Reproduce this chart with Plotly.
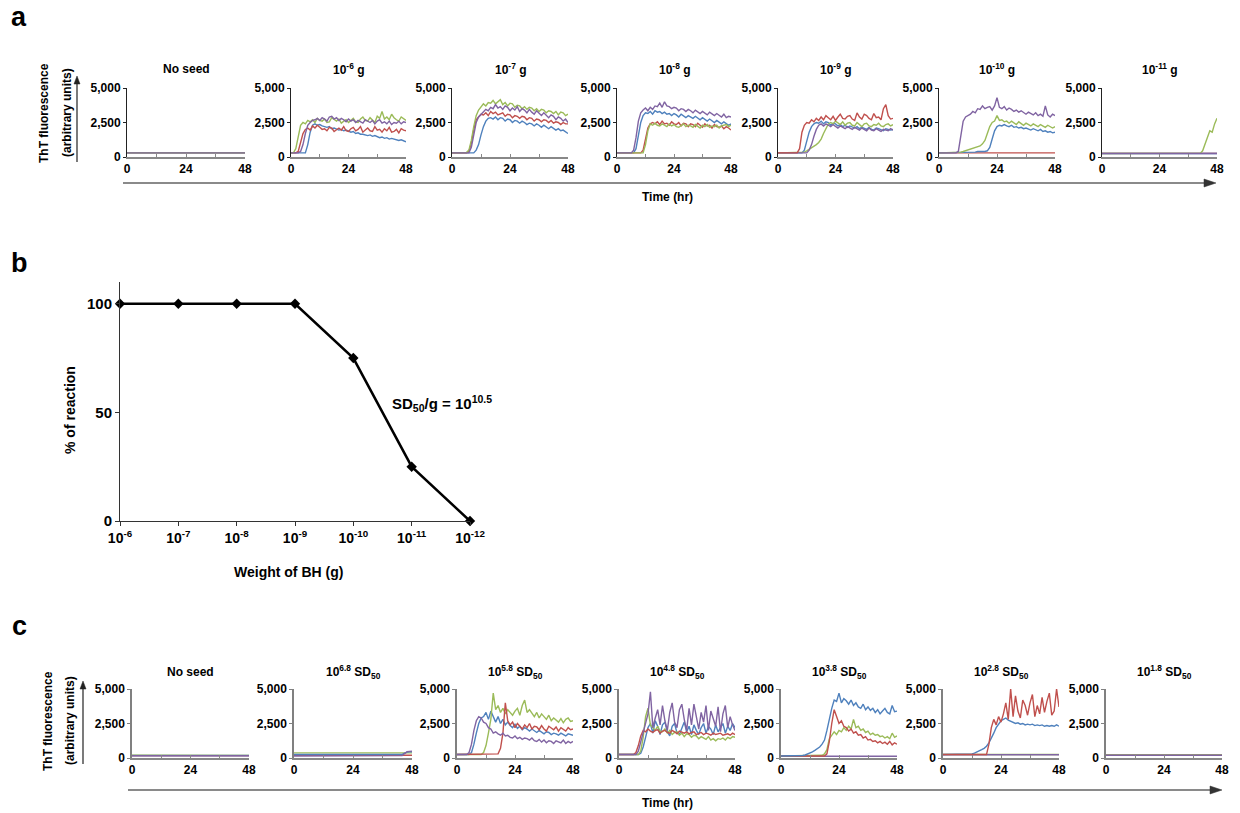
import plotly.graph_objects as go

W, H = 1240, 813

# ---------------- time grids (hours) ----------------
HOURS = [0, 1, 2, 3, 4, 5, 6, 7, 8, 9, 10, 11, 12, 13, 14, 15, 16, 17, 18, 19,
         20, 21, 22, 23, 24, 25, 26, 27, 28, 29, 30, 31, 32, 33, 34, 35, 36, 37, 38, 39,
         40, 41, 42, 43, 44, 45, 46, 47, 48]
FLAT_HOURS = [0, 12, 24, 36, 48]

# ---------------- panel a : ThT traces, brain-homogenate weight ----------------
A_TITLES = ["No seed", "10<sup>-6</sup> g", "10<sup>-7</sup> g", "10<sup>-8</sup> g",
            "10<sup>-9</sup> g", "10<sup>-10</sup> g", "10<sup>-11</sup> g"]

A0_BLUE = [300, 300, 300, 300, 300]
A0_RED = [320, 310, 320, 310, 320]
A0_GREEN = [310, 300, 310, 300, 310]
A0_PURPLE = [300, 300, 300, 300, 300]

A6_GREEN = [300, 300, 600, 1500, 2300, 2500, 2400, 2650, 2550, 2700,
            2500, 2800, 2650, 2600, 2750, 2500, 2550, 2850, 2700, 2600,
            2750, 2450, 2600, 2700, 2500, 2650, 2800, 2550, 2500, 2750,
            2900, 2650, 2600, 2850, 2700, 2500, 2950, 2800, 3300, 2750,
            2900, 2700, 3100, 2850, 2700, 2600, 2900, 2750, 2650]
A6_RED = [300, 300, 300, 400, 1000, 1700, 2000, 2100, 1950, 2250,
          2100, 2300, 2150, 2000, 2050, 1900, 2150, 2100, 1850, 2000,
          2100, 1950, 2200, 1900, 1850, 2050, 2150, 1900, 2000, 2200,
          1800, 1950, 2100, 1900, 1850, 2200, 1950, 2000, 1800, 2050,
          1900, 2150, 1800, 1850, 2000, 1750, 2050, 1950, 1900]
A6_PURPLE = [300, 300, 300, 300, 400, 900, 1700, 2300, 2500, 2650,
             2700, 2800, 2650, 2850, 2750, 2600, 2900, 2950, 2750, 2850,
             2650, 2800, 2700, 2550, 2750, 2600, 2700, 2500, 2650, 2550,
             2450, 2700, 2600, 2500, 2650, 2400, 2600, 2700, 2450, 2550,
             2400, 2600, 2350, 2500, 2450, 2600, 2400, 2550, 2500]
A6_BLUE = [300, 300, 300, 300, 300, 300, 300, 900, 1800, 2300,
           2400, 2300, 2350, 2250, 2200, 2150, 2200, 2050, 2100, 2000,
           1950, 2000, 1900, 1950, 1850, 1800, 1850, 1700, 1750, 1650,
           1650, 1600, 1550, 1600, 1500, 1550, 1450, 1400, 1450, 1350,
           1400, 1300, 1350, 1300, 1250, 1200, 1250, 1150, 1100]

A7_GREEN = [300, 300, 300, 300, 300, 300, 320, 500, 1200, 2200,
            3000, 3400, 3600, 3850, 3700, 3950, 3900, 4100, 3850, 4000,
            4150, 3800, 3950, 3700, 3900, 3850, 3600, 3750, 3700, 3500,
            3650, 3450, 3600, 3550, 3350, 3500, 3300, 3450, 3400, 3200,
            3350, 3300, 3150, 3300, 3050, 3250, 3200, 3000, 3100]
A7_RED = [300, 300, 300, 300, 300, 300, 300, 400, 1000, 2000,
          2700, 2900, 3100, 3050, 3200, 3000, 3300, 3150, 3250, 3050,
          3100, 3200, 2950, 3100, 3050, 2850, 3000, 2950, 2800, 2950,
          2900, 2700, 2850, 2800, 2600, 2750, 2700, 2550, 2700, 2650,
          2500, 2650, 2450, 2550, 2500, 2350, 2500, 2400, 2400]
A7_PURPLE = [300, 300, 300, 300, 300, 300, 300, 300, 700, 1600,
             2500, 2900, 3100, 3300, 3450, 3350, 3600, 3500, 3800, 3550,
             3650, 3450, 3700, 3600, 3350, 3550, 3400, 3650, 3300, 3500,
             3400, 3200, 3450, 3250, 3100, 3350, 3150, 3000, 3200, 3050,
             2850, 3050, 2950, 2700, 2900, 2800, 2600, 2750, 2500]
A7_BLUE = [300, 300, 300, 300, 300, 300, 300, 300, 300, 300,
           500, 900, 1600, 2200, 2600, 2800, 2850, 2750, 2900, 2700,
           2850, 2800, 2600, 2750, 2700, 2500, 2650, 2600, 2450, 2600,
           2500, 2350, 2450, 2400, 2250, 2400, 2300, 2150, 2300, 2200,
           2050, 2200, 2100, 1950, 2050, 1900, 1950, 1800, 1700]

A8_PURPLE = [300, 300, 300, 300, 300, 300, 300, 500, 1400, 2600,
             3200, 3400, 3550, 3350, 3600, 3450, 3700, 3650, 3900, 3600,
             4000, 3700, 3650, 3500, 3600, 3550, 3350, 3500, 3450, 3300,
             3450, 3350, 3200, 3400, 3300, 3150, 3300, 3200, 3050, 3250,
             3100, 3000, 3150, 3050, 2900, 3100, 2850, 2950, 2900]
A8_BLUE = [300, 300, 300, 300, 300, 300, 300, 300, 600, 1500,
           2500, 3000, 3200, 3150, 3300, 3100, 3350, 3250, 3300, 3150,
           3250, 3100, 3150, 3000, 3150, 3050, 2900, 3100, 3000, 2850,
           3000, 2900, 2800, 2950, 2850, 2700, 2850, 2750, 2600, 2750,
           2650, 2500, 2650, 2550, 2400, 2550, 2450, 2300, 2400]
A8_RED = [300, 300, 300, 300, 300, 300, 300, 300, 300, 300,
          300, 500, 1300, 2100, 2400, 2500, 2400, 2550, 2350, 2600,
          2400, 2450, 2300, 2550, 2400, 2350, 2500, 2250, 2450, 2400,
          2200, 2400, 2350, 2200, 2450, 2300, 2150, 2400, 2250, 2300,
          2100, 2350, 2200, 2150, 2250, 2050, 2200, 2100, 1950]
A8_GREEN = [300, 300, 300, 300, 300, 300, 300, 300, 300, 300,
            300, 300, 900, 1900, 2400, 2300, 2450, 2300, 2250, 2400,
            2300, 2200, 2400, 2250, 2350, 2200, 2150, 2300, 2400, 2200,
            2300, 2250, 2150, 2350, 2250, 2100, 2300, 2200, 2350, 2150,
            2250, 2200, 2300, 2100, 2250, 2300, 2350, 2200, 2300]

A9_RED = [300, 300, 300, 300, 300, 300, 300, 300, 300, 600,
          1800, 2300, 2500, 2450, 2700, 2550, 2800, 2650, 2900, 2700,
          3000, 2850, 2700, 2950, 2650, 2900, 3100, 2800, 2750, 2950,
          3000, 2750, 2650, 3200, 2900, 2750, 3100, 3000, 2800, 2700,
          3150, 2850, 2900, 2700, 3500, 3800, 3000, 2750, 2800]
A9_BLUE = [300, 300, 300, 300, 300, 300, 300, 300, 300, 300,
           300, 500, 1200, 1800, 2200, 2400, 2500, 2450, 2600, 2400,
           2550, 2500, 2300, 2450, 2400, 2250, 2350, 2200, 2300, 2150,
           2250, 2200, 2100, 2200, 2050, 2150, 2100, 2000, 2150, 2000,
           1950, 2100, 2050, 1950, 1900, 2050, 2000, 1950, 2000]
A9_PURPLE = [300, 300, 300, 300, 300, 300, 300, 300, 300, 300,
             300, 300, 300, 500, 900, 1500, 2000, 2300, 2400, 2250,
             2400, 2300, 2200, 2350, 2250, 2100, 2250, 2150, 2050, 2200,
             2100, 2000, 2150, 2050, 1950, 2100, 2000, 1900, 2100, 1950,
             1900, 2050, 1950, 1850, 2000, 1950, 1900, 2050, 1950]
A9_GREEN = [300, 300, 300, 300, 300, 300, 300, 300, 300, 300,
            300, 350, 450, 550, 650, 750, 900, 1050, 1300, 1700,
            2100, 2400, 2500, 2400, 2600, 2450, 2350, 2550, 2300, 2450,
            2500, 2300, 2250, 2500, 2350, 2200, 2400, 2450, 2250, 2200,
            2350, 2300, 2450, 2250, 2200, 2350, 2400, 2250, 2350]

A10_PURPLE = [300, 300, 300, 300, 300, 300, 300, 300, 400, 1500,
              2600, 2900, 3000, 3100, 3300, 3200, 3500, 3450, 3700, 3500,
              3600, 3650, 3400, 3700, 4300, 3600, 3500, 3650, 3400, 3550,
              3450, 3300, 3400, 3250, 3350, 3200, 3100, 3250, 3150, 3050,
              3200, 3000, 3100, 2950, 3700, 3050, 2900, 3100, 3000]
A10_GREEN = [300, 300, 300, 300, 300, 300, 300, 300, 300, 350,
             400, 450, 500, 550, 600, 650, 700, 800, 950, 1200,
             1700, 2200, 2500, 2600, 3000, 2650, 2700, 2550, 2600, 2450,
             2600, 2500, 2350, 2550, 2400, 2300, 2450, 2350, 2250, 2400,
             2300, 2200, 2350, 2250, 2150, 2300, 2200, 2100, 2200]
A10_BLUE = [300, 300, 300, 300, 300, 300, 300, 300, 300, 300,
            300, 300, 300, 300, 300, 350, 400, 400, 380, 400,
            450, 700, 1300, 1900, 2200, 2300, 2250, 2350, 2250, 2200,
            2300, 2150, 2200, 2100, 2150, 2050, 2100, 2000, 1950, 2050,
            1950, 1900, 2000, 1850, 1900, 1800, 1850, 1750, 1800]
A10_RED = [300, 300, 310, 300, 300]

A11_BLUE = [250, 250, 250, 250, 250]
A11_RED = [260, 250, 260, 250, 260]
A11_PURPLE = [250, 250, 250, 250, 250]
A11_GREEN_HOURS = [0, 12, 24, 36, 41, 42, 43, 44, 45, 46, 47, 48]
A11_GREEN = [250, 250, 250, 250, 260, 450, 900, 1400, 1900, 1800, 2400, 2800]

# ---------------- panel b : % of reactions vs BH weight ----------------
B_WEIGHTS = ["10<sup>-6</sup>", "10<sup>-7</sup>", "10<sup>-8</sup>", "10<sup>-9</sup>",
             "10<sup>-10</sup>", "10<sup>-11</sup>", "10<sup>-12</sup>"]
B_PERCENT = [100, 100, 100, 100, 75, 25, 0]

# ---------------- panel c : ThT traces, SD50 dilutions ----------------
C_TITLES = ["No seed", "10<sup>6.8</sup> SD<sub>50</sub>", "10<sup>5.8</sup> SD<sub>50</sub>",
            "10<sup>4.8</sup> SD<sub>50</sub>", "10<sup>3.8</sup> SD<sub>50</sub>",
            "10<sup>2.8</sup> SD<sub>50</sub>", "10<sup>1.8</sup> SD<sub>50</sub>"]

C0_BLUE = [180, 180, 180, 180, 180]
C0_RED = [170, 170, 170, 170, 170]
C0_GREEN = [210, 200, 200, 200, 190]
C0_PURPLE = [160, 160, 160, 160, 160]

C68_GREEN = [370, 370, 370, 370, 370]
C68_RED = [200, 200, 200, 200, 200]
C68_RISE_HOURS = [0, 12, 24, 36, 44, 45, 46, 47, 48]
C68_BLUE = [250, 250, 250, 260, 260, 350, 430, 450, 450]
C68_PURPLE = [150, 160, 150, 160, 170, 320, 460, 480, 500]

C58_PURPLE = [250, 250, 250, 250, 250, 400, 1000, 2000, 2700, 3000,
              2900, 2600, 2500, 2200, 2100, 1800, 1900, 1750, 1650, 1800,
              1600, 1650, 1500, 1450, 1600, 1400, 1500, 1350, 1450, 1400,
              1300, 1450, 1250, 1200, 1350, 1150, 1300, 1100, 1250, 1200,
              1050, 1250, 1150, 1100, 1300, 1050, 1200, 1100, 1200]
C58_BLUE = [250, 250, 250, 250, 250, 250, 400, 1000, 1800, 2500,
            2900, 3000, 3300, 2800, 3400, 3000, 2600, 3000, 2500, 2800,
            2400, 2600, 2350, 2200, 2450, 2150, 2300, 2050, 2200, 2100,
            1950, 2100, 2000, 1850, 2000, 1900, 1750, 1900, 1850, 1700,
            1800, 1750, 1650, 1800, 1700, 1600, 1750, 1700, 1650]
C58_GREEN = [250, 250, 250, 250, 250, 250, 250, 250, 250, 250,
             250, 400, 900, 1800, 2800, 4700, 3500, 3800, 3300, 3600,
             3200, 3500, 3300, 3100, 3400, 3600, 3100, 3800, 4200, 3300,
             3500, 3200, 3000, 3300, 2900, 3200, 3000, 2800, 3100, 2700,
             2900, 2750, 2600, 2850, 2550, 2800, 2900, 2650, 2700]
C58_RED = [250, 250, 250, 250, 250, 250, 250, 250, 250, 250,
           250, 250, 250, 250, 250, 250, 250, 300, 700, 1800,
           4000, 2700, 2400, 2600, 2200, 2500, 2300, 2100, 2400, 2200,
           2500, 2100, 2300, 2250, 2050, 2350, 2100, 1950, 2300, 2150,
           2050, 2250, 1950, 2200, 2100, 1950, 2200, 2050, 2100]

C48_RED = [250, 250, 250, 250, 250, 250, 250, 400, 900, 1600,
           2000, 1900, 2100, 1950, 1850, 2000, 2050, 1800, 1950, 2000,
           1850, 1800, 2000, 1900, 1750, 1950, 1850, 1800, 1900, 1750,
           1850, 1900, 1700, 1800, 1850, 1700, 1800, 1750, 1650, 1800,
           1700, 1750, 1800, 1650, 1700, 1750, 1650, 1800, 1700]
C48_GREEN = [250, 250, 250, 250, 250, 250, 250, 250, 250, 500,
             1500, 3000, 3600, 2400, 2200, 2000, 2300, 1950, 1900, 2100,
             1800, 2000, 1700, 1850, 1900, 1650, 1800, 1550, 1750, 1700,
             1500, 1650, 1600, 1400, 1550, 1450, 1350, 1550, 1300, 1400,
             1250, 1400, 1350, 1450, 1300, 1500, 1400, 1550, 1500]
C48_BLUE = [250, 250, 250, 250, 250, 250, 250, 250, 250, 350,
            800, 1500, 2200, 2500, 1800, 2700, 2300, 1700, 2400, 2600,
            1900, 1600, 2300, 2500, 1800, 1700, 2200, 2600, 1900, 2300,
            1700, 2400, 2000, 1700, 2200, 2500, 1800, 2300, 2100, 1700,
            2400, 1900, 2200, 2500, 1800, 2300, 2000, 2500, 2200]
C48_PURPLE = [250, 250, 250, 250, 250, 250, 250, 250, 500, 1200,
              2000, 2600, 3200, 4800, 2200, 2900, 3500, 2400, 3800, 2700,
              2000, 3300, 4000, 2600, 2200, 3500, 3900, 2800, 2000, 3600,
              2400, 3900, 3100, 2100, 3300, 2600, 3800, 2000, 3400, 2900,
              2300, 3700, 1900, 3200, 3800, 2200, 3000, 2400, 2000]

C38_PURPLE = [130, 130, 130, 130, 130]
C38_BLUE = [150, 150, 150, 150, 150, 150, 150, 150, 150, 180,
            220, 280, 350, 450, 550, 650, 800, 1000, 1300, 2000,
            2900, 3600, 4200, 4100, 4700, 4000, 4300, 4150, 3900, 4200,
            3800, 4000, 3700, 3600, 3900, 3500, 3700, 3450, 3600, 3300,
            3500, 3200, 3400, 3600, 3300, 3200, 3800, 3350, 3400]
C38_RED = [150, 150, 150, 150, 150, 150, 150, 150, 150, 150,
           150, 150, 150, 150, 150, 150, 150, 150, 150, 300,
           1200, 2500, 3500, 3000, 2500, 2700, 2300, 2200, 1950, 2100,
           1800, 1900, 1650, 1700, 1450, 1550, 1300, 1350, 1200, 1250,
           1100, 1200, 1050, 1150, 1000, 1200, 950, 1100, 1000]
C38_GREEN = [150, 150, 150, 150, 150, 150, 150, 150, 150, 150,
             150, 150, 150, 150, 150, 150, 150, 200, 300, 600,
             1400, 1700, 1900, 1700, 2000, 1900, 2200, 2000, 2300, 2100,
             2800, 2200, 2300, 2000, 2100, 1850, 1950, 1700, 1800, 1650,
             1700, 1550, 1600, 1450, 1550, 1400, 1800, 1500, 1600]

C28_GREEN = [250, 250, 250, 250, 250]
C28_PURPLE = [240, 240, 240, 240, 240]
C28_BLUE = [250, 250, 250, 250, 250, 250, 250, 250, 250, 250,
            250, 250, 300, 350, 420, 500, 600, 700, 850, 1100,
            1400, 1800, 2200, 2500, 2700, 2800, 2900, 2750, 2650, 2600,
            2500, 2550, 2450, 2500, 2400, 2450, 2400, 2450, 2350, 2400,
            2350, 2400, 2300, 2350, 2300, 2350, 2300, 2400, 2300]
C28_RED = [250, 250, 250, 250, 250, 250, 250, 250, 250, 250,
           250, 250, 250, 250, 250, 250, 250, 250, 250, 1000,
           2200, 2800, 2400, 3000, 2600, 3200, 4000, 2800, 5000, 3000,
           4500, 3400, 2900, 4200, 3800, 3100, 4000, 4600, 3000, 3800,
           3200, 4400, 3300, 4100, 4700, 3100, 3400, 5000, 3700]

C18_BLUE = [200, 200, 200, 200, 200]
C18_RED = [210, 210, 210, 210, 210]
C18_GREEN = [220, 220, 220, 220, 220]
C18_PURPLE = [200, 200, 200, 200, 200]

# ---------------- styling ----------------
COLORS = {"blue": "#4F81BD", "red": "#C0504D", "green": "#9BBB59", "purple": "#8064A2"}
FONT = "Liberation Sans, Arial, Helvetica, sans-serif"

A_PANELS = [
    [(FLAT_HOURS, A0_BLUE, "blue"), (FLAT_HOURS, A0_RED, "red"), (FLAT_HOURS, A0_GREEN, "green"), (FLAT_HOURS, A0_PURPLE, "purple")],
    [(HOURS, A6_BLUE, "blue"), (HOURS, A6_RED, "red"), (HOURS, A6_GREEN, "green"), (HOURS, A6_PURPLE, "purple")],
    [(HOURS, A7_BLUE, "blue"), (HOURS, A7_RED, "red"), (HOURS, A7_GREEN, "green"), (HOURS, A7_PURPLE, "purple")],
    [(HOURS, A8_BLUE, "blue"), (HOURS, A8_RED, "red"), (HOURS, A8_GREEN, "green"), (HOURS, A8_PURPLE, "purple")],
    [(HOURS, A9_BLUE, "blue"), (HOURS, A9_GREEN, "green"), (HOURS, A9_PURPLE, "purple"), (HOURS, A9_RED, "red")],
    [(FLAT_HOURS, A10_RED, "red"), (HOURS, A10_BLUE, "blue"), (HOURS, A10_GREEN, "green"), (HOURS, A10_PURPLE, "purple")],
    [(FLAT_HOURS, A11_BLUE, "blue"), (FLAT_HOURS, A11_RED, "red"), (A11_GREEN_HOURS, A11_GREEN, "green"), (FLAT_HOURS, A11_PURPLE, "purple")],
]
C_PANELS = [
    [(FLAT_HOURS, C0_BLUE, "blue"), (FLAT_HOURS, C0_RED, "red"), (FLAT_HOURS, C0_GREEN, "green"), (FLAT_HOURS, C0_PURPLE, "purple")],
    [(FLAT_HOURS, C68_GREEN, "green"), (FLAT_HOURS, C68_RED, "red"), (C68_RISE_HOURS, C68_BLUE, "blue"), (C68_RISE_HOURS, C68_PURPLE, "purple")],
    [(HOURS, C58_BLUE, "blue"), (HOURS, C58_GREEN, "green"), (HOURS, C58_RED, "red"), (HOURS, C58_PURPLE, "purple")],
    [(HOURS, C48_BLUE, "blue"), (HOURS, C48_GREEN, "green"), (HOURS, C48_RED, "red"), (HOURS, C48_PURPLE, "purple")],
    [(FLAT_HOURS, C38_PURPLE, "purple"), (HOURS, C38_GREEN, "green"), (HOURS, C38_RED, "red"), (HOURS, C38_BLUE, "blue")],
    [(FLAT_HOURS, C28_GREEN, "green"), (FLAT_HOURS, C28_PURPLE, "purple"), (HOURS, C28_BLUE, "blue"), (HOURS, C28_RED, "red")],
    [(FLAT_HOURS, C18_BLUE, "blue"), (FLAT_HOURS, C18_RED, "red"), (FLAT_HOURS, C18_GREEN, "green"), (FLAT_HOURS, C18_PURPLE, "purple")],
]

# pixel layout of the small panels (left, right) and (top=5000, bottom=0)
A_X_PX = [(127, 245), (291, 406), (452, 568), (617, 731), (778, 893), (939, 1055), (1102, 1217)]
A_Y_PX = (88, 157)
C_X_PX = [(132, 249), (294, 412), (457, 573), (619, 735), (781, 897), (943, 1059), (1106, 1222)]
C_Y_PX = (689, 758)


def px(x):
    return x / W


def py(y):
    return 1 - y / H


fig = go.Figure()
layout = dict(width=W, height=H, autosize=False,
              margin=dict(l=0, r=0, t=0, b=0, pad=0, autoexpand=False),
              paper_bgcolor="white", plot_bgcolor="white", showlegend=False,
              font=dict(family=FONT, size=12, color="black", weight="bold"))
annotations = []
shapes = []
tickfont = dict(family=FONT, size=12, color="black", weight="bold")


def text(t, x, y, size=12, angle=0, xanchor="center"):
    annotations.append(dict(text=t, x=px(x), y=py(y), xref="paper", yref="paper",
                            showarrow=False, textangle=angle, xanchor=xanchor, yanchor="middle",
                            font=dict(family=FONT, size=size, color="black", weight="bold")))


def add_small_panel(idx, xpx, ypx, traces, title, ycolor, ywidth, title_y):
    for hrs, vals, col in traces:
        assert len(hrs) == len(vals), (idx, col, len(hrs), len(vals))
        fig.add_trace(go.Scatter(x=hrs, y=vals, mode="lines", xaxis=f"x{idx}", yaxis=f"y{idx}",
                                 line=dict(color=COLORS[col], width=1.4), hoverinfo="skip"))
    layout[f"xaxis{idx}"] = dict(domain=[px(xpx[0]), px(xpx[1])], range=[0, 48], anchor=f"y{idx}",
                                 tickvals=[0, 24, 48], ticktext=["0", "24", "48"],
                                 showline=True, linecolor="#888888", linewidth=2,
                                 ticks="inside", ticklen=3, tickcolor="#888888", tickwidth=1,
                                 minor=dict(tickvals=[12, 36], ticks="inside", ticklen=3,
                                            tickcolor="#888888", showgrid=False),
                                 showgrid=False, zeroline=False, tickfont=tickfont, fixedrange=True,
                                 automargin=False)
    layout[f"yaxis{idx}"] = dict(domain=[py(ypx[1]), py(ypx[0])], range=[0, 5000], anchor=f"x{idx}",
                                 tickvals=[0, 2500, 5000], ticktext=["0", "2,500", "5,000"],
                                 showline=True, linecolor=ycolor, linewidth=ywidth,
                                 ticks="outside", ticklen=3, tickcolor=ycolor,
                                 showgrid=False, zeroline=False, tickfont=tickfont, fixedrange=True,
                                 automargin=False)
    text(title, (xpx[0] + xpx[1]) / 2, title_y)


for i in range(7):
    add_small_panel(i + 1, A_X_PX[i], A_Y_PX, A_PANELS[i], A_TITLES[i], "#222222", 1, 69)
for i in range(7):
    add_small_panel(i + 9, C_X_PX[i], C_Y_PX, C_PANELS[i], C_TITLES[i], "#808080", 1.5, 672)

# ---------------- panel b ----------------
fig.add_trace(go.Scatter(x=B_WEIGHTS, y=B_PERCENT, mode="lines+markers", xaxis="x8", yaxis="y8",
                         line=dict(color="black", width=2.5),
                         marker=dict(symbol="diamond", size=8, color="black"),
                         cliponaxis=False, hoverinfo="skip"))
layout["xaxis8"] = dict(domain=[px(120), px(470)], type="category", range=[0, 6], anchor="y8",
                        showline=True, linecolor="#333333", linewidth=1,
                        ticks="outside", ticklen=4, tickcolor="#333333",
                        showgrid=False, zeroline=False, automargin=False,
                        tickfont=dict(family=FONT, size=14, color="black", weight="bold"), fixedrange=True)
layout["yaxis8"] = dict(domain=[py(521), py(282)], range=[0, 110], anchor="x8",
                        tickvals=[0, 50, 100], showline=True, linecolor="#333333", linewidth=1,
                        ticks="outside", ticklen=4, tickcolor="#333333",
                        showgrid=False, zeroline=False, automargin=False,
                        tickfont=dict(family=FONT, size=15, color="black", weight="bold"), fixedrange=True)

text("Weight of BH (g)", 288, 572, size=14)
text("% of reaction", 70, 410, size=14, angle=-90)
text("SD<sub>50</sub>/g = 10<sup>10.5</sup>", 390, 404, size=15, xanchor="left")

# ---------------- panel labels, axis titles, arrows ----------------
text("a", 19, 17, size=27)
text("b", 19, 263, size=27)
text("c", 19, 626, size=27)

ARROW_DARK = "#222222"
ARROW_GRAY = "#8a8a8a"


def vertical_arrow(x, top, bottom):
    shapes.append(dict(type="line", xref="paper", yref="paper", x0=px(x), x1=px(x),
                       y0=py(bottom), y1=py(top + 6), line=dict(color=ARROW_DARK, width=1.2)))
    path = f"M {px(x - 3)} {py(top + 8)} L {px(x)} {py(top)} L {px(x + 3)} {py(top + 8)} Z"
    shapes.append(dict(type="path", xref="paper", yref="paper", path=path,
                       fillcolor=ARROW_DARK, line=dict(color=ARROW_DARK, width=0.5)))


def horizontal_arrow(x0, x1, y):
    shapes.append(dict(type="line", xref="paper", yref="paper", x0=px(x0), x1=px(x1 - 10),
                       y0=py(y), y1=py(y), line=dict(color=ARROW_GRAY, width=2)))
    path = f"M {px(x1 - 12)} {py(y - 4)} L {px(x1)} {py(y)} L {px(x1 - 12)} {py(y + 4)} Z"
    shapes.append(dict(type="path", xref="paper", yref="paper", path=path,
                       fillcolor="#333333", line=dict(color="#333333", width=0.5)))


for (yc, x1, x2, ax, atop, abot, ay, ty, axl, axr) in [
        (113, 44, 67, 77, 76, 162, 183, 197, 123, 1216),
        (721, 48, 70, 83, 681, 764, 790, 803, 128, 1222)]:
    text("ThT fluorescence", x1, yc, angle=-90)
    text("(arbitrary units)", x2, yc, angle=-90)
    vertical_arrow(ax, atop, abot)
    horizontal_arrow(axl, axr, ay)
    text("Time (hr)", 667, ty)

layout["annotations"] = annotations
layout["shapes"] = shapes
fig.update_layout(**layout)
fig.write_html("out.html", config={"displayModeBar": False},
               post_script="document.body.style.margin='0px';document.body.style.overflow='hidden';")
